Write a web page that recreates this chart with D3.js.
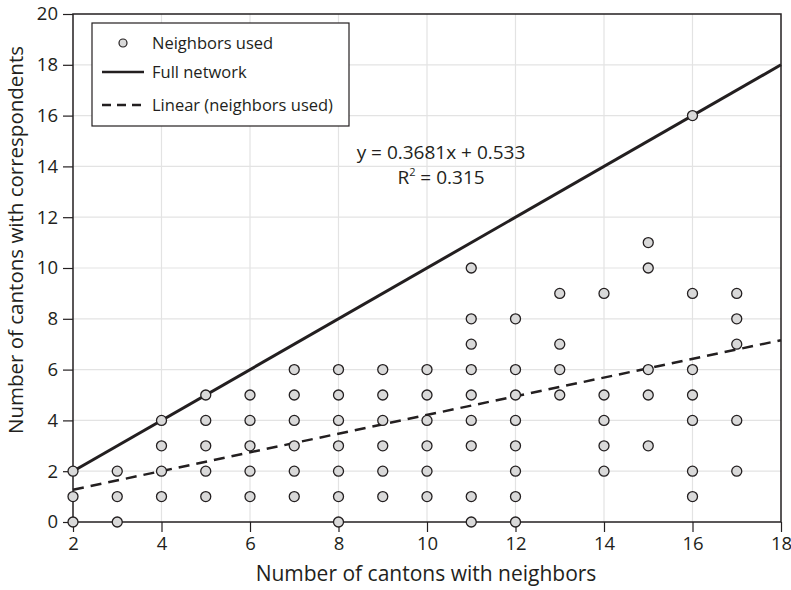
<!DOCTYPE html>
<html><head><meta charset="utf-8">
<script src="https://cdn.jsdelivr.net/npm/d3@7"></script>
<style>body{margin:0;background:#fff}svg{display:block}text{font-family:"Open Sans",sans-serif;fill:#231f20}</style>
</head><body><svg id="c" width="791" height="590"></svg>
<script>
const xTicks=[2,4,6,8,10,12,14,16,18];
const yTicks=[0,2,4,6,8,10,12,14,16,18,20];
const xs=[2,2,2,3,3,3,4,4,4,4,5,5,5,5,5,6,6,6,6,6,7,7,7,7,7,7,8,8,8,8,8,8,8,9,9,9,9,9,9,10,10,10,10,10,10,11,11,11,11,11,11,11,11,11,12,12,12,12,12,12,12,12,13,13,13,13,14,14,14,14,14,15,15,15,15,15,16,16,16,16,16,16,16,17,17,17,17,17];
const ys=[0,1,2,0,1,2,1,2,3,4,1,2,3,4,5,1,2,3,4,5,1,2,3,4,5,6,0,1,2,3,4,5,6,1,2,3,4,5,6,1,2,3,4,5,6,0,1,3,4,5,6,7,8,10,0,1,2,3,4,5,6,8,5,6,7,9,2,3,4,5,9,3,5,6,10,11,1,2,4,5,6,9,16,2,4,7,8,9];
const fullLine=[[2,2],[18,18]];
const slope=0.3681, intercept=0.533;
const legendLabels=["Neighbors used","Full network","Linear (neighbors used)"];

const svg=d3.select("#c");
const L=73,R=781,T=14,B=522;
const x=d3.scaleLinear().domain([2,18]).range([L,R]);
const y=d3.scaleLinear().domain([0,20]).range([B,T]);

// grid
svg.append("g").selectAll("line").data(xTicks.slice(1,-1)).join("line")
 .attr("x1",d=>x(d)).attr("x2",d=>x(d)).attr("y1",T).attr("y2",B).attr("stroke","#e3e3e3").attr("stroke-width",1.2);
svg.append("g").selectAll("line").data(yTicks.slice(1,-1)).join("line")
 .attr("y1",d=>y(d)).attr("y2",d=>y(d)).attr("x1",L).attr("x2",R).attr("stroke","#e3e3e3").attr("stroke-width",1.2);

// frame
svg.append("rect").attr("x",L).attr("y",T).attr("width",R-L).attr("height",B-T).attr("fill","none").attr("stroke","#231f20").attr("stroke-width",1.5);

// axes
const xa=svg.append("g").attr("transform",`translate(0,${B})`).call(d3.axisBottom(x).tickValues(xTicks).tickSize(10).tickPadding(5).tickFormat(d3.format("d")));
const ya=svg.append("g").attr("transform",`translate(${L},0)`).call(d3.axisLeft(y).tickValues(yTicks).tickSize(10).tickPadding(5).tickFormat(d3.format("d")));
[xa,ya].forEach(a=>{a.select(".domain").remove();a.selectAll("line").attr("stroke","#231f20").attr("stroke-width",1.2);a.selectAll("text").style("font-size","18.5px").style("font-family","'Open Sans',sans-serif").attr("fill","#231f20");});

// lines
const line=d3.line().x(d=>x(d[0])).y(d=>y(d[1]));
svg.append("path").attr("d",line(fullLine)).attr("stroke","#231f20").attr("stroke-width",3).attr("fill","none");
const trend=[[2,slope*2+intercept],[18,slope*18+intercept]];
svg.append("path").attr("d",line(trend)).attr("stroke","#231f20").attr("stroke-width",2.5).attr("stroke-dasharray","11,7").attr("fill","none");

// points
svg.append("g").selectAll("circle").data(xs.map((v,i)=>[v,ys[i]])).join("circle")
 .attr("cx",d=>x(d[0])).attr("cy",d=>y(d[1])).attr("r",5).attr("fill","#d9d9d9").attr("stroke","#231f20").attr("stroke-width",1.3);

// legend
const lg=svg.append("g");
lg.append("rect").attr("x",92).attr("y",23).attr("width",257).attr("height",103).attr("fill","#fff").attr("stroke","#231f20").attr("stroke-width",1.2);
const ly=[43,72,105];
lg.append("circle").attr("cx",123).attr("cy",ly[0]).attr("r",4).attr("fill","#d9d9d9").attr("stroke","#231f20").attr("stroke-width",1.2);
lg.append("line").attr("x1",102).attr("x2",144).attr("y1",ly[1]).attr("y2",ly[1]).attr("stroke","#231f20").attr("stroke-width",2.5);
lg.append("line").attr("x1",102).attr("x2",144).attr("y1",ly[2]).attr("y2",ly[2]).attr("stroke","#231f20").attr("stroke-width",2.5).attr("stroke-dasharray","9,6");
legendLabels.forEach((t,i)=>lg.append("text").attr("x",152).attr("y",ly[i]).attr("dy","0.35em").style("font-size","16.5px").text(t));

// equation
svg.append("text").attr("x",441).attr("y",159).attr("text-anchor","middle").style("font-size","19px").text(`y = ${slope}x + ${intercept}`);
const r2=svg.append("text").attr("x",441).attr("y",184).attr("text-anchor","middle").style("font-size","19px");
r2.append("tspan").text("R");
r2.append("tspan").attr("dy",-8).style("font-size","11px").text("2");
r2.append("tspan").attr("dy",8).text(" = 0.315");

// axis titles
svg.append("text").attr("x",426).attr("y",581).attr("text-anchor","middle").style("font-size","21px").text("Number of cantons with neighbors");
svg.append("text").attr("transform","translate(23,240) rotate(-90)").attr("text-anchor","middle").style("font-size","20.5px").text("Number of cantons with correspondents");
</script></body></html>
